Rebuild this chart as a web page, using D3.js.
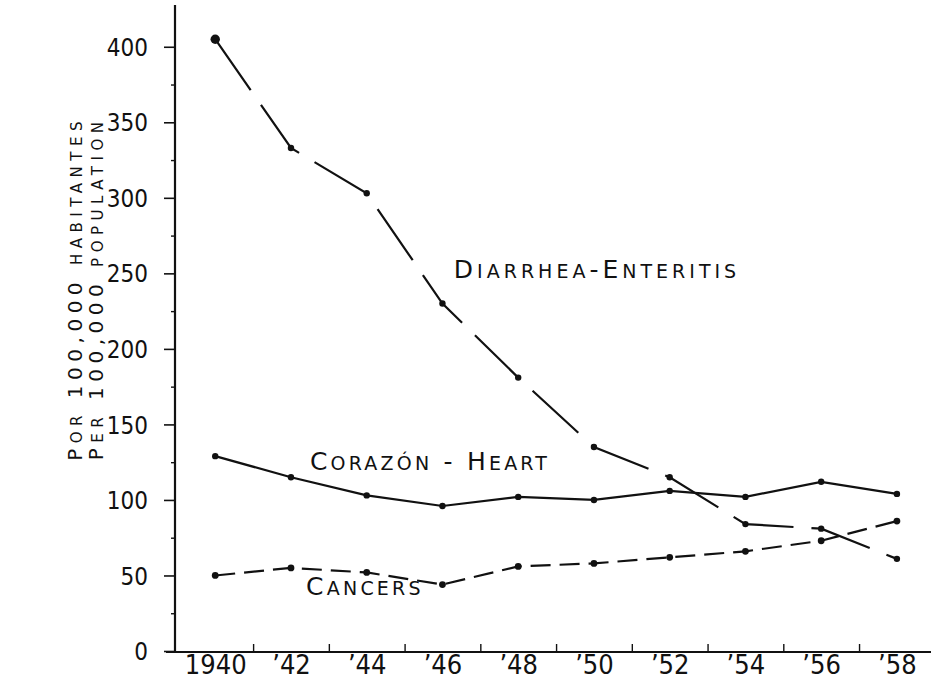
<!DOCTYPE html>
<html>
<head>
<meta charset="utf-8">
<script src="https://cdn.jsdelivr.net/npm/d3@7"></script>
<style>
	html, body { margin: 0; padding: 0; background: #fff; }
	svg { display: block; }
	.axis text { font-family: "DejaVu Sans Condensed", "DejaVu Sans", sans-serif; font-stretch: condensed; fill: #111; }
	.axis path, .axis line { stroke: #111; }
	.lbl { font-family: "DejaVu Sans", sans-serif; fill: #111; }
</style>
</head>
<body>
<div id="chart"></div>
<script>
// data
const years = [1940, 1942, 1944, 1946, 1948, 1950, 1952, 1954, 1956, 1958];
const diarrhea = [405, 333, 303, 230, 181, 135, 115, 84, 81, 61];
const heart = [129, 115, 103, 96, 102, 100, 106, 102, 112, 104];
const cancers = [50, 55, 52, 44, 56, 58, 62, 66, 73, 86];

const yTicks = [0, 50, 100, 150, 200, 250, 300, 350, 400];
const yMinorTicks = [25, 75, 125, 175, 225, 275, 325, 375];
const xTickYears = [1941, 1943, 1945, 1947, 1949, 1951, 1953, 1955, 1957];
const xLabels = ['1940', '\u201942', '\u201944', '\u201946', '\u201948', '\u201950', '\u201952', '\u201954', '\u201956', '\u201958'];

// Upper case = full capital, lower case = small capital
const yTitle = ['Por 100,000 habitantes', 'Per 100,000 population'];
const seriesLabels = ['Diarrhea-Enteritis', 'Corazón - Heart', 'Cancers'];

const W = 936, H = 683;

const svg = d3.select('#chart').append('svg')
	.attr('width', W)
	.attr('height', H)
	.attr('viewBox', `0 0 ${W} ${H}`);

const x = d3.scaleLinear().domain([1938.7, 1958.9]).range([166, 931]);
const y = d3.scaleLinear().domain([0, 425]).range([651, 9]);
const axisX = 175;

// small caps helper
const smallCaps = (sel, str, big, small) => {
	str.split('').forEach(ch => {
		const isSmall = ch !== ch.toUpperCase();
		sel.append('tspan')
			.attr('font-size', isSmall ? small : big)
			.text(ch.toUpperCase());
	});
};

// y axis
const yAxis = d3.axisLeft(y).tickValues(yTicks).tickSize(11).tickPadding(16).tickFormat(d3.format('d'));
svg.append('g')
	.attr('class', 'axis y-axis')
	.attr('transform', `translate(${axisX},0)`)
	.call(yAxis)
	.call(g => {
		g.select('.domain').attr('stroke-width', 2.2).attr('d', `M0,${y.range()[1] - 4}V${y(0) + 1}`);
		g.selectAll('.tick line').attr('stroke-width', 1.6);
		g.selectAll('.tick text').attr('font-size', 24).attr('dy', '0.36em');
	});

svg.append('g')
	.attr('class', 'axis y-minor')
	.attr('transform', `translate(${axisX},0)`)
	.call(d3.axisLeft(y).tickValues(yMinorTicks).tickSize(4).tickFormat(''))
	.call(g => {
		g.select('.domain').remove();
		g.selectAll('.tick line').attr('stroke-width', 1.4);
	});

// x axis: ticks between the years, labels under each point
svg.append('g')
	.attr('class', 'axis x-axis')
	.attr('transform', `translate(0,${y(0) + 1})`)
	.call(d3.axisBottom(x).tickValues(xTickYears).tickSize(-8).tickFormat(''))
	.call(g => {
		g.select('.domain').attr('stroke-width', 2.2).attr('d', `M${x.range()[0]},0H${x.range()[1]}`);
		g.selectAll('.tick line').attr('stroke-width', 1.4);
	});

svg.append('g')
	.attr('class', 'axis x-labels')
	.attr('transform', `translate(0,${y(0) + 1})`)
	.call(d3.axisBottom(x).tickValues(years).tickSize(0).tickPadding(3).tickFormat((d, i) => xLabels[i]))
	.call(g => {
		g.select('.domain').remove();
		g.selectAll('.tick text').attr('font-size', 27);
	});

// y title, two rotated lines
const title = svg.append('g')
	.attr('class', 'lbl')
	.attr('transform', `translate(82,${y(240)}) rotate(-90)`);
yTitle.forEach((t, i) => {
	const txt = title.append('text')
		.attr('x', 0)
		.attr('y', i * 21)
		.attr('text-anchor', 'middle')
		.attr('letter-spacing', 5.5);
	smallCaps(txt, t, 20, 15);
});

// lines
const series = [
	{ values: diarrhea, dash: '62,18', r: 3.2 },
	{ values: heart, dash: null, r: 3.2 },
	{ values: cancers, dash: '20,9', r: 3.4 }
];

const line = d3.line()
	.x((d, i) => x(years[i]))
	.y(d => y(d));

const lineG = svg.append('g').attr('class', 'lines');
series.forEach(s => {
	lineG.append('path')
		.datum(s.values)
		.attr('fill', 'none')
		.attr('stroke', '#111')
		.attr('stroke-width', 2.2)
		.attr('stroke-dasharray', s.dash)
		.attr('d', line);
	lineG.append('g')
		.selectAll('circle')
		.data(s.values)
		.enter()
		.append('circle')
		.attr('cx', (d, i) => x(years[i]))
		.attr('cy', d => y(d))
		.attr('r', (d, i) => (s === series[0] && i === 0) ? s.r + 1.5 : s.r)
		.attr('fill', '#111');
});

// series labels, anchored to data coordinates
const labelPos = [
	{ yr: 1946.3, v: 247 },
	{ yr: 1942.5, v: 120 },
	{ yr: 1942.4, v: 37 }
];
seriesLabels.forEach((t, i) => {
	const txt = svg.append('text')
		.attr('class', 'lbl')
		.attr('x', x(labelPos[i].yr))
		.attr('y', y(labelPos[i].v))
		.attr('letter-spacing', i === 0 ? 4 : 3.2);
	smallCaps(txt, t, 25, 19);
});
</script>
</body>
</html>
